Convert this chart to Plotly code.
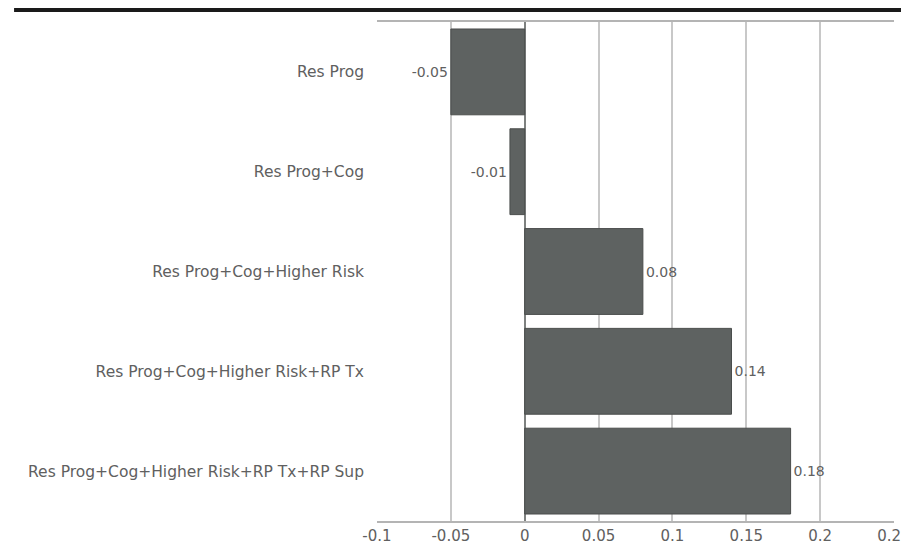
import plotly.graph_objects as go

categories = [
    "Res Prog",
    "Res Prog+Cog",
    "Res Prog+Cog+Higher Risk",
    "Res Prog+Cog+Higher Risk+RP Tx",
    "Res Prog+Cog+Higher Risk+RP Tx+RP Sup",
]
values = [-0.05, -0.01, 0.08, 0.14, 0.18]
value_labels = ["-0.05", "-0.01", "0.08", "0.14", "0.18"]
tick_vals = [-0.1, -0.05, 0, 0.05, 0.1, 0.15, 0.2, 0.25]
tick_text = ["-0.1", "-0.05", "0", "0.05", "0.1", "0.15", "0.2", "0.25"]

FONT = "DejaVu Sans, Liberation Sans, Arial, sans-serif"
TXT = "#606060"

fig = go.Figure()
fig.add_trace(go.Bar(
    x=values,
    y=categories,
    orientation="h",
    text=value_labels,
    textposition="outside",
    textfont=dict(family=FONT, size=14, color=TXT),
    marker=dict(color="#5e6261", line=dict(color="#4a4d4c", width=1)),
    width=0.86,
    cliponaxis=False,
))

fig.update_layout(
    width=901, height=547,
    margin=dict(l=369, r=15, t=14, b=34),
    paper_bgcolor="white", plot_bgcolor="white",
    showlegend=False,
    font=dict(family=FONT, size=14, color=TXT),
    shapes=[dict(type="line", xref="paper", yref="paper",
                 x0=-0.702, x1=1.04, y0=1.024, y1=1.024,
                 line=dict(color="#1a1a1a", width=4))],
)
fig.update_xaxes(
    range=[-0.1, 0.25],
    tickvals=tick_vals, ticktext=tick_text,
    showgrid=True, gridcolor="#c8c8c8", gridwidth=1.5,
    zeroline=True, zerolinecolor="#7e8180", zerolinewidth=2,
    showline=True, linecolor="#b4b4b4", linewidth=2, mirror=True,
    ticks="", ticklabeloverflow="allow", automargin=False,
    tickfont=dict(family=FONT, size=15, color=TXT),
)
fig.update_yaxes(
    autorange="reversed", automargin=False,
    showgrid=False, showline=False,
    ticks="", ticklabelstandoff=12,
    tickfont=dict(family=FONT, size=15.5, color=TXT),
)

fig.write_html("out.html")
